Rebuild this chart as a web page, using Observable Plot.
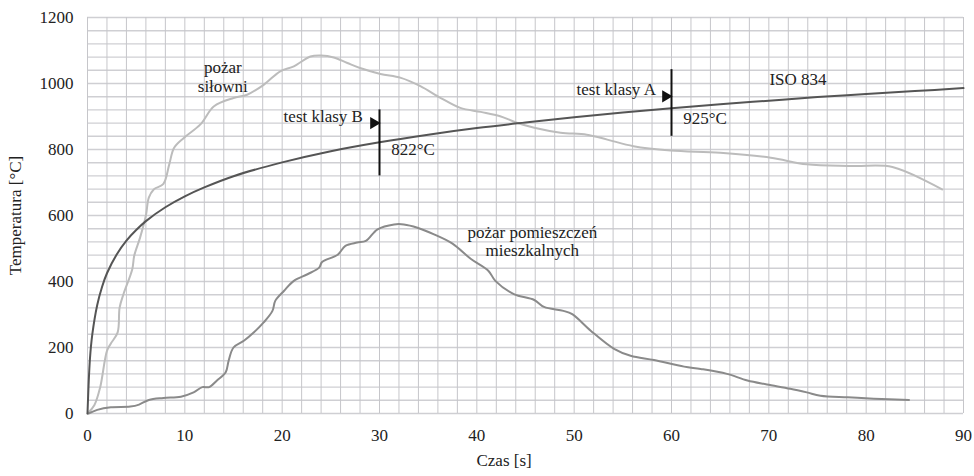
<!DOCTYPE html>
<html>
<head>
<meta charset="utf-8">
<script src="https://cdn.jsdelivr.net/npm/d3@7"></script>
<script src="https://cdn.jsdelivr.net/npm/@observablehq/plot@0.6"></script>
<style>
  html, body { margin: 0; padding: 0; background: #fff; }
  svg { display: block; }
  svg, svg text { font-family: "Liberation Serif", "Times New Roman", serif !important; }
</style>
</head>
<body>
<div id="chart"></div>
<script>
// ISO 834 standard curve
const isoTime = [0, 0.25, 0.5, 1, 1.5, 2, 3, 4, 5, 6, 8, 10, 12, 15, 20, 25, 30, 35, 40, 45, 50, 55, 60, 65, 70, 75, 80, 85, 90];
const isoTemp = [0, 165, 241, 329, 384, 425, 482, 524, 556, 583, 625, 658, 685, 719, 761, 795, 822, 845, 865, 882, 898, 912, 925, 937, 948, 959, 968, 977, 986];

// pożar siłowni (gym fire)
const gymTime = [0, 0.7, 1.3, 2.0, 2.4, 3.1, 3.3, 3.7, 4.6, 4.8, 5.4, 6.0, 6.3, 6.8, 7.8, 8.4, 8.9, 9.9, 11.6, 13.0, 15.0, 16.4, 18.1, 19.8, 21.2, 22.9, 24.0, 25.3, 26.7, 28.0, 30.1, 32.2, 34.2, 36.3, 38.3, 40.4, 42.4, 44.1, 45.9, 48.6, 51.3, 53.4, 56.1, 59.9, 65.0, 70.2, 73.9, 78.7, 82.7, 87.8];
const gymTemp = [0, 25, 79, 190, 212, 246, 321, 362, 437, 478, 533, 600, 654, 679, 696, 755, 805, 835, 876, 931, 956, 966, 996, 1037, 1052, 1082, 1085, 1079, 1062, 1047, 1029, 1017, 992, 956, 926, 914, 901, 881, 866, 851, 845, 830, 810, 797, 790, 775, 755, 750, 747, 679];

// pożar pomieszczeń mieszkalnych (residential fire)
const homeTime = [0.1, 1.0, 2.4, 4.4, 5.3, 6.3, 7.8, 9.6, 10.9, 11.8, 12.5, 13.3, 14.2, 14.5, 15.0, 16.1, 17.1, 18.1, 19.0, 19.3, 20.2, 21.2, 22.6, 23.8, 24.1, 25.7, 26.5, 27.7, 28.6, 29.8, 31.5, 32.5, 33.9, 35.6, 37.5, 39.4, 41.2, 41.9, 43.8, 45.9, 46.9, 48.9, 49.8, 51.7, 54.1, 55.8, 58.2, 61.3, 63.0, 65.7, 67.8, 69.8, 72.2, 73.9, 75.3, 78.1, 80.8, 84.4];
const homeTemp = [0, 11, 19, 21, 27, 41, 47, 51, 64, 80, 80, 100, 125, 160, 200, 221, 246, 276, 311, 342, 372, 402, 422, 442, 459, 481, 508, 518, 523, 558, 573, 573, 563, 543, 515, 468, 432, 402, 362, 344, 323, 311, 301, 251, 196, 175, 162, 142, 135, 120, 100, 88, 75, 64, 54, 49, 45, 41];

// ticks and grid
const xTicks = [0, 10, 20, 30, 40, 50, 60, 70, 80, 90];
const yTicks = [0, 200, 400, 600, 800, 1000, 1200];
const xGrid = d3.range(0, 91, 2);
const yGrid = d3.range(0, 1201, 40);

// annotations
const markers = [
  {x: 30, y1: 720, y2: 920, arrowX: 29.4, arrowY: 880, label: "test klasy B", lx: 28.3, ly: 901, value: "822°C", vx: 31.2, vy: 800},
  {x: 60, y1: 840, y2: 1042, arrowX: 59.4, arrowY: 961, label: "test klasy A", lx: 58.4, ly: 982, value: "925°C", vx: 61.2, vy: 895}
];
const seriesLabels = [
  {x: 13.9, y: 1021, text: "pożar\nsiłowni"},
  {x: 45.7, y: 523, text: "pożar pomieszczeń\nmieszkalnych"},
  {x: 73.0, y: 1014, text: "ISO 834"}
];

const iso = isoTime.map((t, i) => ({t, v: isoTemp[i]}));
const gym = gymTime.map((t, i) => ({t, v: gymTemp[i]}));
const home = homeTime.map((t, i) => ({t, v: homeTemp[i]}));

const font = "'Liberation Serif', 'Times New Roman', serif";
const fs = 17;

const chart = Plot.plot({
  width: 974,
  height: 476,
  marginLeft: 87,
  marginRight: 11,
  marginTop: 17,
  marginBottom: 63,
  style: {fontFamily: font, fontSize: fs + "px", color: "#222", background: "#fff"},
  x: {domain: [0, 90]},
  y: {domain: [0, 1200]},
  marks: [
    Plot.ruleY(yGrid, {stroke: "#cfcfd3", strokeWidth: 1.4}),
    Plot.ruleX(xGrid, {stroke: "#c6c6ca", strokeWidth: 1}),
    Plot.axisX({ticks: xTicks, tickSize: 0, tickPadding: 15, label: null, fontSize: fs, fontFamily: font, tickFormat: d => String(d)}),
    Plot.axisY({ticks: yTicks, tickSize: 0, tickPadding: 14, label: null, fontSize: fs, fontFamily: font, tickFormat: d => String(d)}),
    Plot.line(gym, {x: "t", y: "v", stroke: "#bcbcbc", strokeWidth: 2, curve: "catmull-rom"}),
    Plot.line(home, {x: "t", y: "v", stroke: "#8a8a8a", strokeWidth: 2, curve: "catmull-rom"}),
    Plot.line(iso, {x: "t", y: "v", stroke: "#555", strokeWidth: 2, curve: "catmull-rom"}),
    Plot.ruleX(markers, {x: "x", y1: "y1", y2: "y2", stroke: "#111", strokeWidth: 2}),
    Plot.dot(markers, {x: "arrowX", y: "arrowY", symbol: "triangle", rotate: 90, r: 4.5, fill: "#111", stroke: "none"}),
    Plot.text(markers, {x: "lx", y: "ly", text: "label", textAnchor: "end", fontSize: fs, fontFamily: font, fill: "#222"}),
    Plot.text(markers, {x: "vx", y: "vy", text: "value", textAnchor: "start", fontSize: fs, fontFamily: font, fill: "#222"}),
    Plot.text(seriesLabels, {x: "x", y: "y", text: "text", textAnchor: "middle", fontSize: fs, fontFamily: font, lineHeight: 1.1, fill: "#222"}),
    Plot.text(["Temperatura [°C]"], {frameAnchor: "left", dx: -72, rotate: -90, textAnchor: "middle", fontSize: fs, fontFamily: font, fill: "#222"}),
    Plot.text(["Czas [s]"], {x: [42.8], frameAnchor: "bottom", dy: 52, textAnchor: "middle", fontSize: fs, fontFamily: font, fill: "#222"})
  ]
});
document.getElementById("chart").appendChild(chart);
</script>
</body>
</html>
